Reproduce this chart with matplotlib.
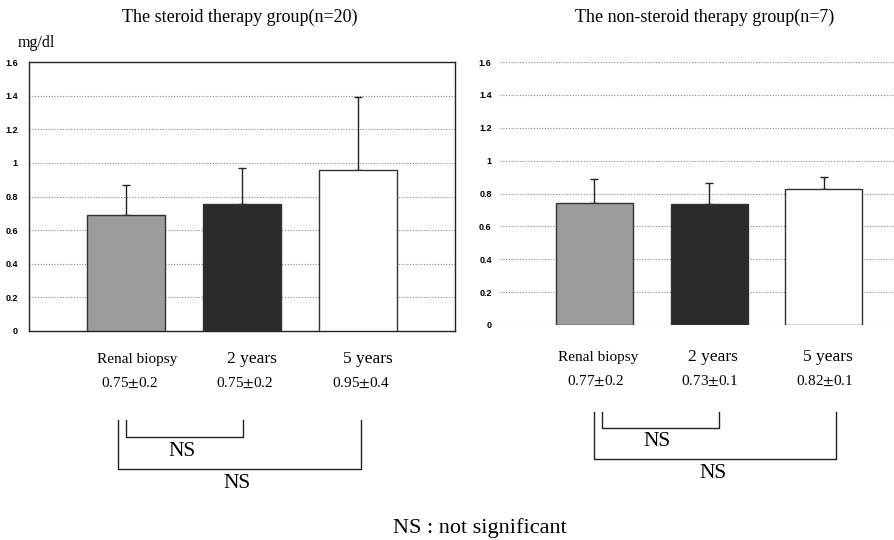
import matplotlib.pyplot as plt
import matplotlib.transforms as mtransforms
from matplotlib.lines import Line2D

plt.rcParams["mathtext.fontset"] = "stix"

# data
categories = ["Renal biopsy", "2 years", "5 years"]
steroid_mean = [0.69, 0.755, 0.955]
steroid_err = [0.18, 0.215, 0.435]
steroid_text = [r"0.75$\pm$0.2", r"0.75$\pm$0.2", r"0.95$\pm$0.4"]
nonsteroid_mean = [0.74, 0.735, 0.83]
nonsteroid_err = [0.15, 0.13, 0.07]
nonsteroid_text = [r"0.77$\pm$0.2", r"0.73$\pm$0.1", r"0.82$\pm$0.1"]
yticks = [0, 0.2, 0.4, 0.6, 0.8, 1.0, 1.2, 1.4, 1.6]
ytick_labels = ["0", "0.2", "0.4", "0.6", "0.8", "1", "1.2", "1.4", "1.6"]

bar_colors = ["#9c9c9c", "#2b2b2b", "white"]
serif = "Liberation Serif"
sans = "Liberation Sans"

W, H = 894, 540
fig = plt.figure(figsize=(W / 100, H / 100), dpi=100)


def px_axes(x0, y0, x1, y1):
    # pixel box (top-left origin) -> figure fraction
    return fig.add_axes([x0 / W, 1 - y1 / H, (x1 - x0) / W, (y1 - y0) / H])


def ftext(x, y, s, size, **kw):
    fig.text(x / W, 1 - y / H, s, fontsize=size, ha="center", va="center",
             family=kw.pop("family", serif), **kw)


def bracket(x0, x1, ytop, ybot, lw=1.0):
    xs = [x0 / W, x0 / W, x1 / W, x1 / W]
    ys = [1 - ytop / H, 1 - ybot / H, 1 - ybot / H, 1 - ytop / H]
    fig.add_artist(Line2D(xs, ys, color="#222222", lw=lw))


def draw_panel(ax, means, errs, xlim, gridticks, pad):
    x = range(len(means))
    ax.bar(x, means, width=0.67, color=bar_colors, edgecolor="#333333",
           linewidth=1.0, zorder=3)
    ax.errorbar(x, means, yerr=[[0] * len(means), errs], fmt="none",
                ecolor="#222222", elinewidth=1.0, capsize=3, capthick=1.0,
                zorder=2)
    for g in gridticks:
        ax.axhline(g, color="#8a8a8a", lw=0.8, ls=(0, (1, 1.5)), zorder=1)
    ax.set_xlim(*xlim)
    ax.set_ylim(0, 1.6)
    ax.set_xticks([])
    ax.set_yticks(yticks)
    ax.set_yticklabels(ytick_labels, family=sans, fontsize=6.5,
                       fontweight="bold")
    ax.tick_params(axis="y", length=0, pad=pad)


# left panel: steroid group
axL = px_axes(29, 62, 455, 331)
draw_panel(axL, steroid_mean, steroid_err, (-0.84, 2.84),
           [0.2, 0.4, 0.6, 0.8, 1.0, 1.2, 1.4], pad=8)
for sp in axL.spines.values():
    sp.set_color("#222222")
    sp.set_linewidth(1.0)

# right panel: non-steroid group
axR = px_axes(500, 62, 894, 325)
draw_panel(axR, nonsteroid_mean, nonsteroid_err, (-0.82, 2.61), yticks, pad=6)
for sp in axR.spines.values():
    sp.set_visible(False)

# titles
ftext(240, 17, "The steroid therapy group(n=20)", 13)
ftext(705, 17, "The non-steroid therapy group(n=7)", 13)
ftext(36, 43, "mg/dl", 11.5)

# category labels and mean +/- SD under each panel
for ax, texts, dx, ylab, yval in [(axL, steroid_text, 0.09, 359, 383),
                                  (axR, nonsteroid_text, 0.03, 357, 381)]:
    trans = mtransforms.blended_transform_factory(ax.transData, fig.transFigure)
    for i, (cat, val) in enumerate(zip(categories, texts)):
        size = 11 if i == 0 else 12.5
        ax.text(i + dx, 1 - ylab / H, cat, transform=trans, ha="center",
                va="center", fontsize=size, family=serif)
        ax.text(i + dx * 0.3, 1 - yval / H, val, transform=trans, ha="center",
                va="center", fontsize=11, family=serif)

# significance brackets
bracket(126, 243, 420, 437)
ftext(182, 452, "NS", 15.5)
bracket(118, 361, 420, 469)
ftext(237, 484, "NS", 15.5)
bracket(602, 719, 412, 428)
ftext(657, 442, "NS", 15.5)
bracket(594, 836, 412, 459)
ftext(713, 473, "NS", 15.5)

ftext(480, 528, "NS : not significant", 16)

fig.savefig("out.png", dpi=100)
